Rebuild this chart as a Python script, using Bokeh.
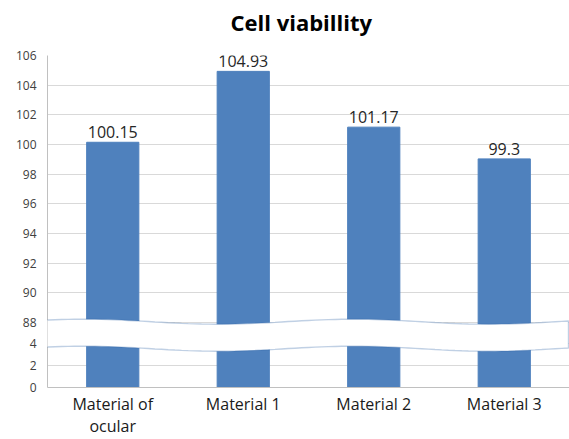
import numpy as np
from bokeh.plotting import figure
from bokeh.models import (Range1d, FactorRange, FixedTicker, PolyAnnotation,
                          ColumnDataSource, LabelSet, Title)
from bokeh.core.properties import value
from bokeh.embed import file_html
from bokeh.resources import INLINE

# ---------------- data ----------------
categories = ["Material of\nocular", "Material 1", "Material 2", "Material 3"]
viability = [100.15, 104.93, 101.17, 99.03]
value_labels = ["100.15", "104.93", "101.17", "99.3"]
upper_ticks = [88, 90, 92, 94, 96, 98, 100, 102, 104, 106]
lower_ticks = [0, 2, 4]
BREAK_LOW = 4
BREAK_HIGH = 88
TITLE = "Cell viabillity"

# ---------------- layout constants ----------------
W, H = 569, 439
FL, FR, FT, FB = 47, 569, 55, 387
frame_h = FB - FT
frame_w = FR - FL
UPPER_TOP = 106
px_per_upper = (322 - FT) / (UPPER_TOP - BREAK_HIGH)
upper_start = UPPER_TOP - frame_h / px_per_upper
px_per_lower = 11.0
lower_end = frame_h / px_per_lower
cat_px = frame_w / len(categories)

to_x = lambda px: (px - FL) / cat_px          # synthetic categorical coordinate
to_y = lambda py: UPPER_TOP - (py - FT) / px_per_upper

FONT = "Open Sans"
BAR = "#4f81bd"

p = figure(width=W, height=H, x_range=FactorRange(*categories, range_padding=0),
           y_range=Range1d(upper_start, UPPER_TOP), title=None,
           toolbar_location=None, output_backend="svg",
           min_border_left=FL, min_border_right=0, min_border_bottom=H - FB,
           min_border_top=FT)
p.extra_y_ranges = {"low": Range1d(0, lower_end)}
p.outline_line_color = None
p.background_fill_color = "white"
p.border_fill_color = "white"

# spacer between frame and title, then the title itself
p.add_layout(Title(text=" ", text_font=FONT, text_font_size="12px", standoff=0), "above")
p.add_layout(Title(text=TITLE, text_font=FONT, text_font_size="22px",
                   text_font_style="bold", align="left", offset=183,
                   standoff=0, text_color="#000000"), "above")

# upper segment bars
src = ColumnDataSource(dict(x=categories, top=viability, lab=value_labels))
p.vbar(x="x", top="top", bottom=BREAK_HIGH - 1, width=0.4, source=src,
       fill_color=BAR, line_color=BAR)
# lower segment bars
p.vbar(x=categories, top=BREAK_LOW + 1, bottom=0, width=0.4, y_range_name="low",
       fill_color=BAR, line_color=BAR)

# value labels
p.add_layout(LabelSet(x="x", y="top", text="lab", source=src, text_align="center",
                      text_baseline="alphabetic", y_offset=4,
                      text_font=value(FONT), text_font_size="16px",
                      text_color="#262626"))

# axis break band
bx = np.linspace(41, 568, 80)
top_py = 321.2 + 2.5 * np.cos(2 * np.pi * (bx - 218) / 270)
bot_py = top_py + 27
xs = list(to_x(bx)) + list(to_x(bx[::-1]))
ys = list(to_y(top_py)) + list(to_y(bot_py[::-1]))
p.add_layout(PolyAnnotation(xs=xs, ys=ys, fill_color="white", fill_alpha=1,
                            line_color="#2f62a6", line_width=1.4))

# y axis (two segments shown on one axis)
low_to_main = lambda v: upper_start + v * (UPPER_TOP - upper_start) / lower_end
low_pos = [low_to_main(v) for v in lower_ticks]
yticks = low_pos + upper_ticks
p.yaxis.ticker = FixedTicker(ticks=yticks)
overrides = {float(pos): str(v) for pos, v in zip(low_pos, lower_ticks)}
overrides.update({float(t): str(t) for t in upper_ticks})
p.yaxis.major_label_overrides = overrides
p.yaxis.major_tick_line_color = None
p.yaxis.major_tick_out = 0
p.yaxis.minor_tick_line_color = None
p.yaxis.minor_tick_out = 0
p.yaxis.axis_line_color = "#c0c0c0"
p.yaxis.major_label_text_font = FONT
p.yaxis.major_label_text_font_size = "12px"
p.yaxis.major_label_text_color = "#404040"
p.yaxis.major_label_standoff = 11

p.xaxis.major_tick_line_color = None
p.xaxis.major_tick_out = 0
p.xaxis.minor_tick_line_color = None
p.xaxis.axis_line_color = "#c0c0c0"
p.xaxis.major_label_text_font = FONT
p.xaxis.major_label_text_font_size = "16px"
p.xaxis.major_label_text_line_height = 1.0
p.xaxis.major_label_text_color = "#1a1a1a"
p.xaxis.major_label_standoff = 5

p.xgrid.grid_line_color = None
p.ygrid.grid_line_color = "#d9d9d9"
p.ygrid.grid_line_width = 1

open("out.html", "w").write(file_html(p, INLINE))
